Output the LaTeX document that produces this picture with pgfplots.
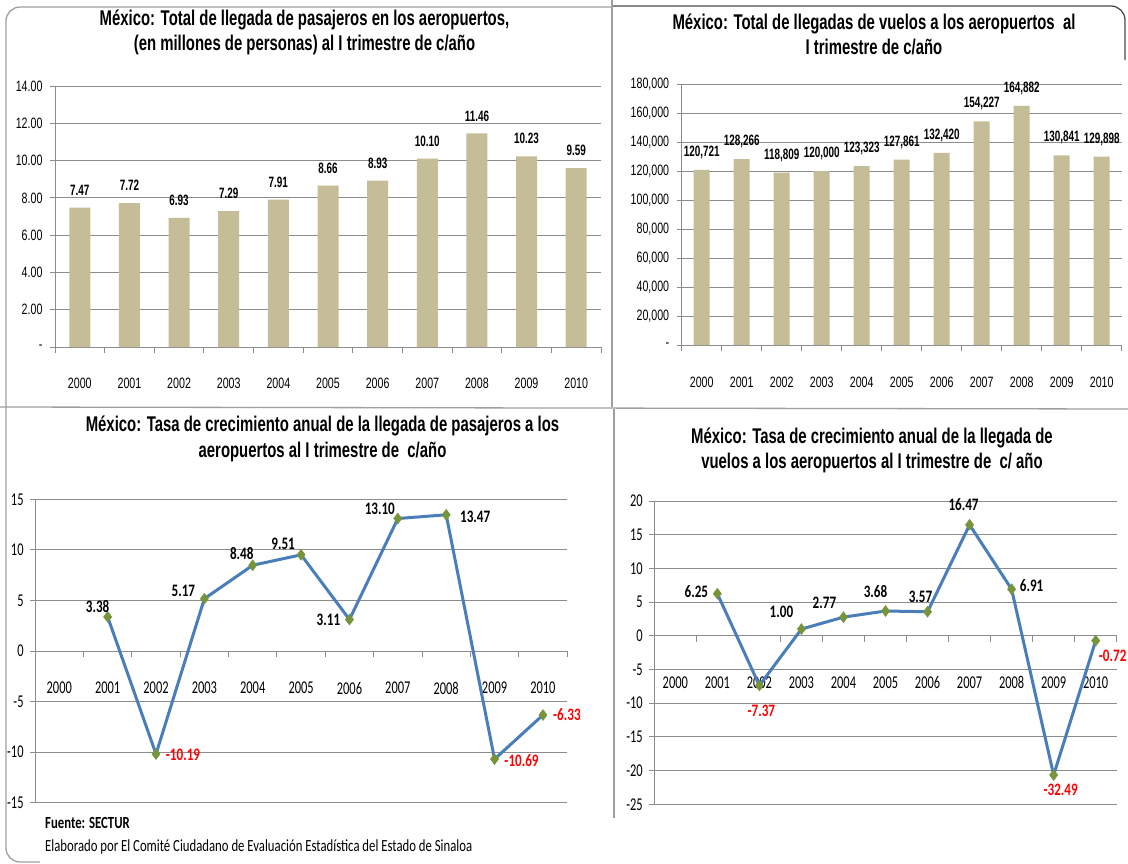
\documentclass[border=0pt]{standalone}
\usepackage{fontspec}
\usepackage{pgfplots}
\usepackage{pgfplotstable}
\pgfplotsset{compat=1.18}
\setmainfont{Liberation Sans}
\newfontfamily\nar[FakeStretch=0.71]{Liberation Sans}
\newfontfamily\narb[FakeStretch=0.66]{Liberation Sans}
\newfontfamily\ttl[FakeStretch=0.70]{Liberation Sans}
\newfontfamily\calf[FakeStretch=0.69]{Carlito}
\newfontfamily\calb[FakeStretch=0.75]{Carlito}
\definecolor{bartan}{HTML}{C4BD97}
\definecolor{gridg}{HTML}{8C8C8C}
\definecolor{lblue}{HTML}{4A7EBB}
\definecolor{mgreen}{HTML}{77933C}
\definecolor{lred}{HTML}{FF0000}

\pgfplotstableread{
x y lab
0 7.47 7.47
1 7.72 7.72
2 6.93 6.93
3 7.29 7.29
4 7.91 7.91
5 8.66 8.66
6 8.93 8.93
7 10.10 10.10
8 11.46 11.46
9 10.23 10.23
10 9.59 9.59
}\pasaj

\pgfplotstableread{
x y lab
0 120721 120,721
1 128266 128,266
2 118809 118,809
3 120000 120,000
4 123323 123,323
5 127861 127,861
6 132420 132,420
7 154227 154,227
8 164882 164,882
9 130841 130,841
10 129898 129,898
}\vuelos

\pgfplotstableread{
x y lab dx dy c
1 3.38 3.38 -10 10 0
2 -10.19 -10.19 27 -1 100
3 5.17 5.17 -21 8 0
4 8.48 8.48 -11 12 0
5 9.51 9.51 -18 11 0
6 3.11 3.11 -21 0 0
7 13.10 13.10 -18 10 0
8 13.47 13.47 29 -2 0
9 -10.69 -10.69 27 -1 100
10 -6.33 -6.33 24 0 100
}\tpasaj

\pgfplotstableread{
x y lab dx dy c
1 6.25 6.25 -21 2 0
2 -7.37 -7.37 2 -25 100
3 1.00 1.00 -20 17 0
4 2.77 2.77 -19 14 0
5 3.68 3.68 -10 19 0
6 3.57 3.57 -7 15 0
7 16.47 16.47 -6 20 0
8 6.91 6.91 20 4 0
9 -20.65 -32.49 7 -15 100
10 -0.72 -0.72 17 -15 100
}\tvuelos

\pgfplotsset{
  common/.style={
    scale only axis, anchor=south west,
    xmin=-0.5, xmax=10.5,
    xtick={0,...,10},
    xticklabels={2000,2001,2002,2003,2004,2005,2006,2007,2008,2009,2010},
    minor xtick={-0.5,0.5,...,10.5},
    major x tick style={draw=none},
    minor x tick style={gridg, line width=1pt},
    ytick style={gridg, line width=1pt},
    minor tick length=6pt, major tick length=5pt,
    tick align=outside,
    ymajorgrids, grid style={gridg, line width=1pt},
    axis line style={gridg, line width=1pt},
    axis y line*=left,
    clip=false,
  },
  barax/.style={common,
    axis x line*=bottom,
    ticklabel style={font=\nar\fontsize{15}{17}\selectfont},
    yticklabel style={xshift=-4pt},
  },
  lineax/.style={common,
    axis x line*=middle,
    ticklabel style={font=\calf\fontsize{18}{20}\selectfont},
    yticklabel style={xshift=-3pt},
  },
  growth/.style={lblue, line width=3pt, mark=diamond*, mark size=5.5pt,
    mark options={fill=mgreen, draw=mgreen, line width=0.4pt},
    nodes near coords, point meta=explicit symbolic,
    visualization depends on={\thisrow{dx} \as \dx},
    visualization depends on={\thisrow{dy} \as \dy},
    visualization depends on={\thisrow{c} \as \lc},
    nodes near coords style={anchor=center, inner sep=0pt, xshift=\dx pt, yshift=\dy pt,
      text=lred!\lc!black, font=\calb\bfseries\fontsize{17.5}{19}\selectfont},
  },
}

\begin{document}
\begin{tikzpicture}
\path[use as bounding box, fill=white] (0,0) rectangle (1128pt,-863pt);
\clip (0,0) rectangle (1128pt,-863pt);

% panel frames
\draw[gray!75, line width=1.3pt, rounded corners=14pt] (6pt,-407pt) -- (6pt,-7pt) -- (612pt,-7pt);
\draw[gray!60!black, line width=1.3pt, rounded corners=14pt] (612pt,-6pt) -- (1125pt,-6pt) -- (1125pt,-60pt);
\draw[gray!75, line width=1.3pt] (612pt,0pt) -- (612pt,-407pt);
\draw[gray!75, line width=1.3pt] (0pt,-407pt) -- (1128pt,-409pt);
\draw[gray!75, line width=1.3pt, rounded corners=14pt] (6pt,-407pt) -- (6pt,-862pt) -- (40pt,-862pt);
\draw[gray!75, line width=1.3pt] (614pt,-409pt) -- (614pt,-818pt);

% titles
\node[align=center, font=\ttl\bfseries\fontsize{21.3}{25}\selectfont] at (304.5pt,-32.5pt)
  {México: Total de llegada de pasajeros en los aeropuertos,\\(en millones de personas) al I trimestre de c/año};
\node[align=center, font=\ttl\bfseries\fontsize{21.3}{25}\selectfont] at (874pt,-34.5pt)
  {México: Total de llegadas de vuelos a los aeropuertos\ \ al\\I trimestre\ de c/año};
\node[align=center, font=\ttl\bfseries\fontsize{21.3}{26}\selectfont] at (322.5pt,-439pt)
  {México: Tasa de crecimiento anual de la llegada de pasajeros a los\\aeropuertos\ al I trimestre de\ \ c/año};
\node[align=center, font=\ttl\bfseries\fontsize{21.3}{25}\selectfont] at (872pt,-450.5pt)
  {México: Tasa de crecimiento anual de la llegada de\\vuelos a los aeropuertos al I trimestre\ de\ \ c/ año};

% footnotes
\node[anchor=west, inner sep=0pt, font=\calb\bfseries\fontsize{17}{19}\selectfont] at (45pt,-823pt) {Fuente: SECTUR};
\node[anchor=west, inner sep=0pt, font=\calb\fontsize{17}{19}\selectfont] at (45pt,-847pt)
  {Elaborado por El Comité Ciudadano de Evaluación Estadística del Estado de Sinaloa};

% top-left: passengers
\begin{axis}[barax, at={(55pt,-347pt)}, width=546pt, height=261pt,
  ymin=0, ymax=14, ytick={0,2,...,14},
  yticklabels={-,2.00,4.00,6.00,8.00,10.00,12.00,14.00},
  xticklabel style={anchor=center, yshift=-31pt},
  ybar, bar width=21pt]
\addplot[fill=bartan, draw=none, nodes near coords, point meta=explicit symbolic,
  nodes near coords style={anchor=south, inner sep=0pt, yshift=12pt,
    font=\narb\bfseries\fontsize{15}{17}\selectfont, text=black}]
  table[x=x, y=y, meta=lab] {\pasaj};
\end{axis}

% top-right: flights
\begin{axis}[barax, at={(681.7pt,-345pt)}, width=440pt, height=261pt,
  ymin=0, ymax=180000, ytick={0,20000,...,180000},
  yticklabels={-,{20,000},{40,000},{60,000},{80,000},{100,000},{120,000},{140,000},{160,000},{180,000}},
  scaled y ticks=false,
  xticklabel style={anchor=center, yshift=-32pt},
  ybar, bar width=16pt]
\addplot[fill=bartan, draw=none, nodes near coords, point meta=explicit symbolic,
  nodes near coords style={anchor=south, inner sep=0pt, yshift=11pt,
    font=\narb\bfseries\fontsize{15}{17}\selectfont, text=black}]
  table[x=x, y=y, meta=lab] {\vuelos};
\end{axis}

% bottom-left: passenger growth
\begin{axis}[lineax, at={(35.1pt,-802.7pt)}, width=532pt, height=303.4pt,
  ymin=-15, ymax=15, ytick={-15,-10,...,15},
  yticklabels={-15,-10,-5,0,5,10,15},
  xticklabel style={anchor=center, yshift=-32pt}]
\addplot[growth] table[x=x, y=y, meta=lab] {\tpasaj};
\end{axis}

% bottom-right: flight growth
\begin{axis}[lineax, at={(654.3pt,-804.3pt)}, width=462.4pt, height=303.3pt,
  ymin=-25, ymax=20, ytick={-25,-20,...,20},
  yticklabels={-25,-20,-15,-10,-5,0,5,10,15,20},
  xticklabel style={anchor=center, yshift=-42pt}]
\addplot[growth] table[x=x, y=y, meta=lab] {\tvuelos};
\end{axis}
\end{tikzpicture}
\end{document}
